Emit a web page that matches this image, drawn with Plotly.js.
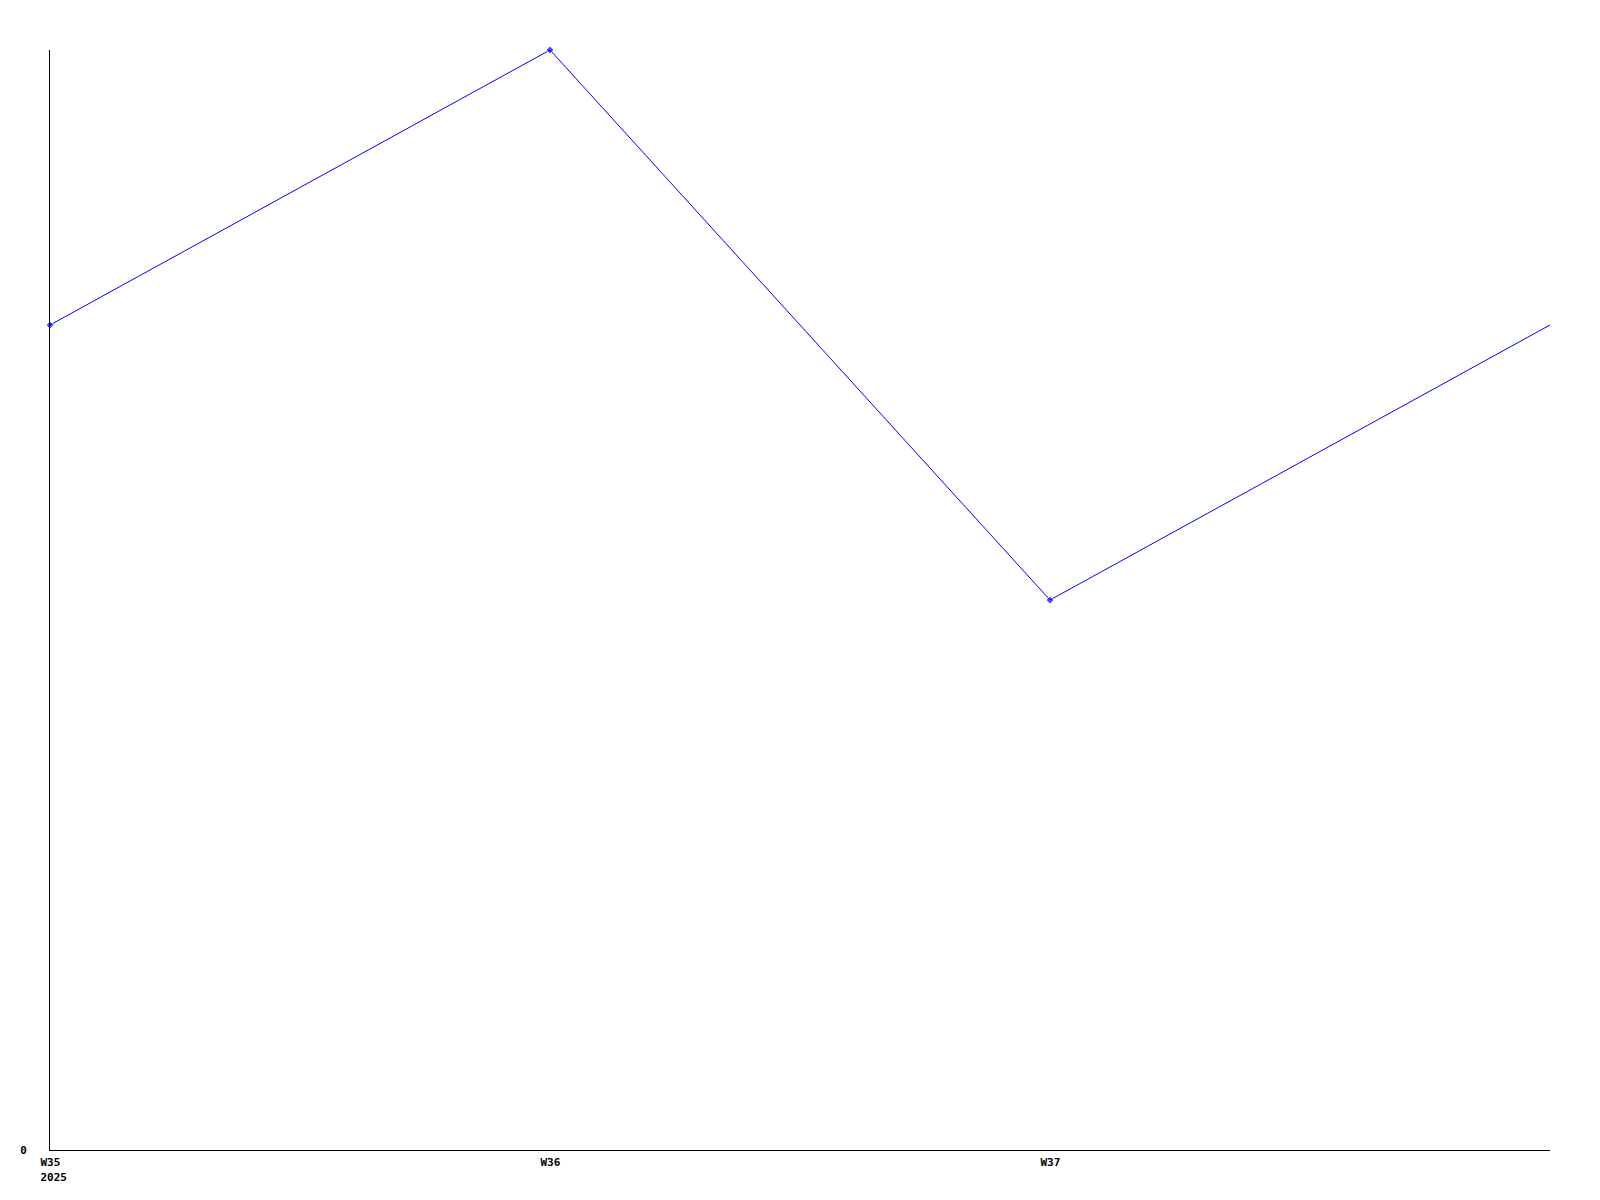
<!DOCTYPE html>
<html>
<head>
<meta charset="utf-8">
<script src="https://cdn.plot.ly/plotly-3.0.1.min.js"></script>
<style>html,body{margin:0;padding:0;background:#fff;}#chart{width:1600px;height:1200px;}</style>
</head>
<body>
<div id="chart"></div>
<script>
const weeks = ["W35", "W36", "W37", "W38"];
const weekLabels = ["W35<br>2025", "W36", "W37"];
const values = [3, 4, 2, 3];

const xIdx = weeks.map((w, i) => i);

const trace = {
  x: xIdx,
  y: values,
  type: "scatter",
  mode: "lines+markers",
  line: {color: "#0000ff", width: 1},
  marker: {color: "#0000ff", size: [6, 6, 6, 0], symbol: "diamond"},
  cliponaxis: false,
  hoverinfo: "none"
};

const layout = {
  width: 1600,
  height: 1200,
  margin: {l: 50, r: 50, t: 50, b: 50, pad: 0},
  paper_bgcolor: "#ffffff",
  plot_bgcolor: "#ffffff",
  showlegend: false,
  font: {family: "DejaVu Sans Mono, monospace", size: 11, color: "#000000", weight: "bold"},
  xaxis: {
    range: [0, 3],
    tickvals: [0, 1, 2],
    ticktext: weekLabels,
    showgrid: false,
    zeroline: false,
    showline: true,
    linecolor: "#000000",
    linewidth: 1,
    ticks: "",
    ticklabelposition: "outside right",
    ticklabelstandoff: 2,
    ticklabelshift: -10,
    tickfont: {family: "DejaVu Sans Mono, monospace", size: 11, color: "#000000", weight: "bold"}
  },
  yaxis: {
    range: [0, 4],
    tickvals: [0],
    ticktext: ["0"],
    showgrid: false,
    zeroline: false,
    showline: true,
    linecolor: "#000000",
    linewidth: 1,
    ticks: "",
    ticklabelstandoff: 20,
    tickfont: {family: "DejaVu Sans Mono, monospace", size: 11, color: "#000000", weight: "bold"}
  }
};

Plotly.newPlot("chart", [trace], layout, {displayModeBar: false, staticPlot: true});
</script>
</body>
</html>
